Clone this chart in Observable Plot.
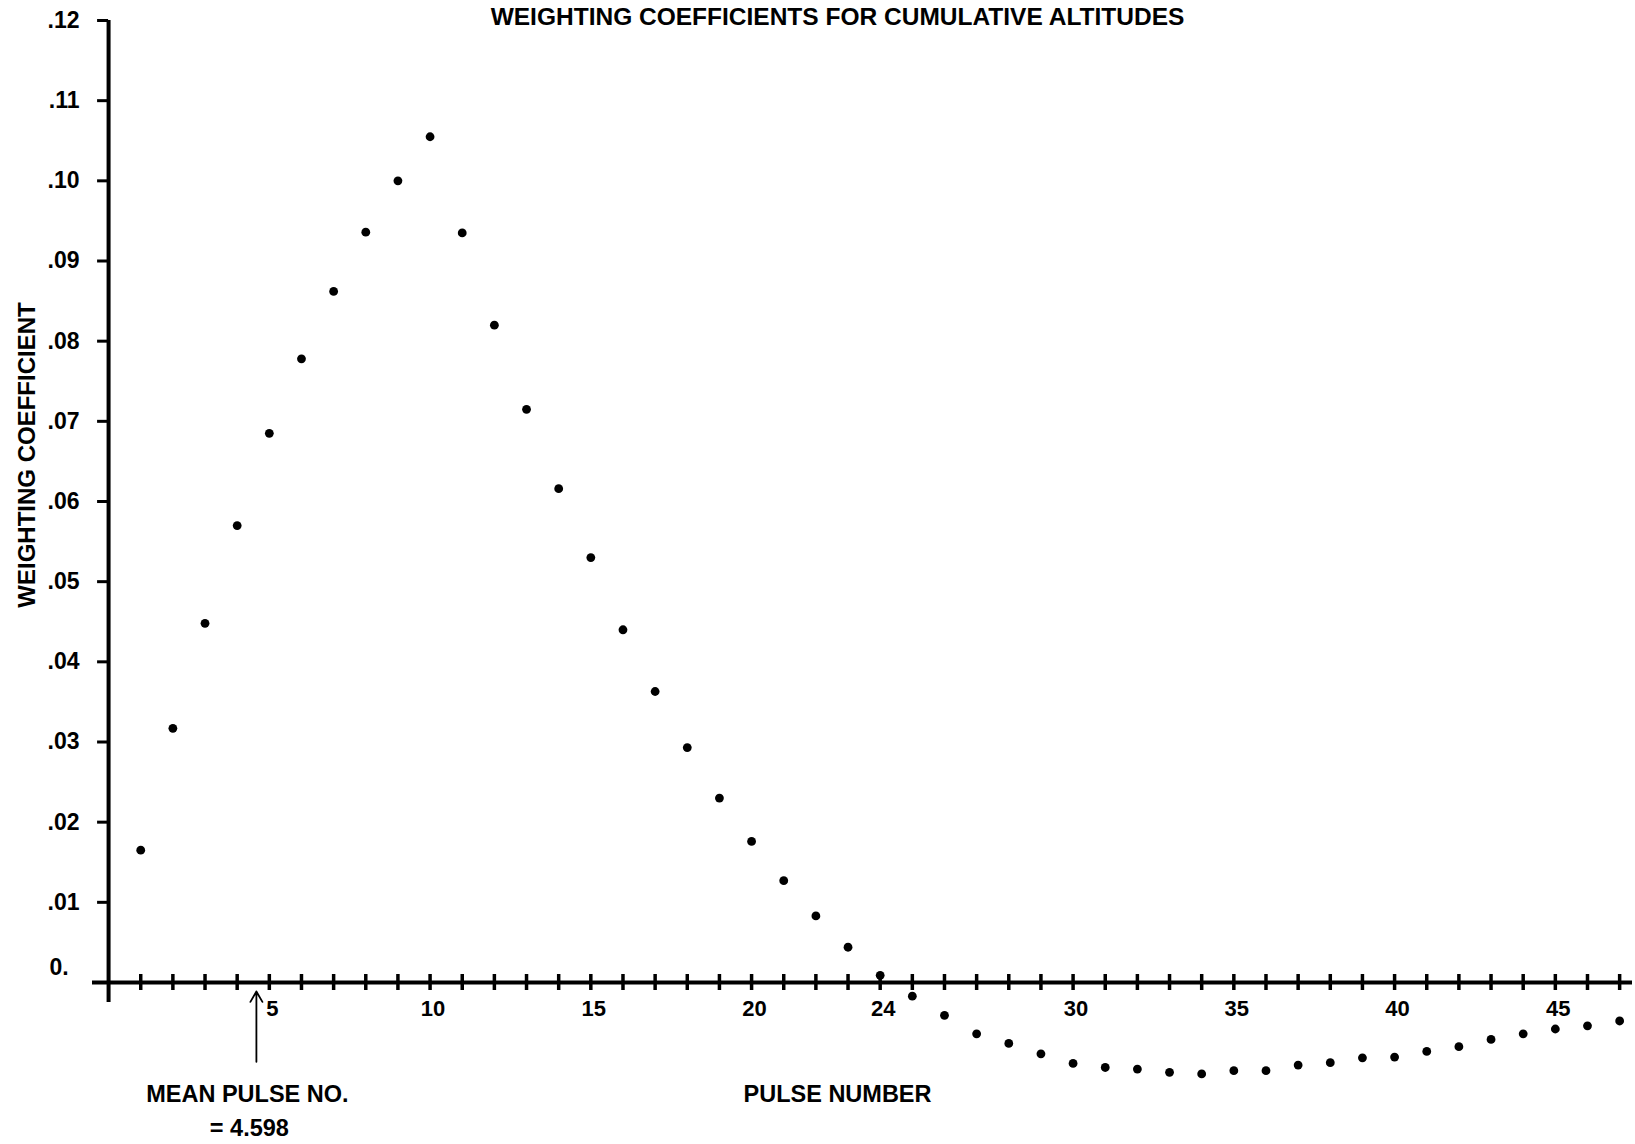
<!DOCTYPE html>
<html>
<head>
<meta charset="utf-8">
<script src="https://cdn.jsdelivr.net/npm/d3@7"></script>
<script src="https://cdn.jsdelivr.net/npm/@observablehq/plot@0.6"></script>
<style>
html, body { margin: 0; padding: 0; background: #ffffff; }
#chart svg { display: block; }
</style>
</head>
<body>
<div id="chart"></div>
<script>
// ---------- data ----------
const title = "WEIGHTING COEFFICIENTS FOR CUMULATIVE ALTITUDES";
const yLabel = "WEIGHTING COEFFICIENT";
const xLabel = "PULSE NUMBER";

const pulse = [1, 2, 3, 4, 5, 6, 7, 8, 9, 10, 11, 12, 13, 14, 15, 16, 17, 18, 19, 20,
  21, 22, 23, 24, 25, 26, 27, 28, 29, 30, 31, 32, 33, 34, 35, 36, 37, 38, 39, 40,
  41, 42, 43, 44, 45, 46, 47];
const coef = [0.0165, 0.0317, 0.0448, 0.0570, 0.0685, 0.0778, 0.0862, 0.0936, 0.1000, 0.1055,
  0.0935, 0.0820, 0.0715, 0.0616, 0.0530, 0.0440, 0.0363, 0.0293, 0.0230, 0.0176,
  0.0127, 0.0083, 0.0044, 0.0009, -0.0017, -0.0041, -0.0064, -0.0076, -0.0089, -0.0101,
  -0.0106, -0.0108, -0.0112, -0.0114, -0.0110, -0.0110, -0.0103, -0.0100, -0.0094, -0.0093,
  -0.0086, -0.0080, -0.0071, -0.0064, -0.0058, -0.0054, -0.0048];

const xMinorTicks = [1, 2, 3, 4, 5, 6, 7, 8, 9, 10, 11, 12, 13, 14, 15, 16, 17, 18, 19, 20,
  21, 22, 23, 24, 25, 26, 27, 28, 29, 30, 31, 32, 33, 34, 35, 36, 37, 38, 39, 40,
  41, 42, 43, 44, 45, 46, 47];
const xTickLabels = [5, 10, 15, 20, 24, 30, 35, 40, 45];
const yTicks = [0.01, 0.02, 0.03, 0.04, 0.05, 0.06, 0.07, 0.08, 0.09, 0.10, 0.11, 0.12];
const yTickLabels = [".01", ".02", ".03", ".04", ".05", ".06", ".07", ".08", ".09", ".10", ".11", ".12"];
const zeroLabel = "0.";
const meanPulse = 4.598;
const meanLabelLines = ["MEAN PULSE NO.", "= 4.598"];

const table = pulse.map((p, i) => ({pulse: p, coef: coef[i]}));
const yTickTable = yTicks.map((v, i) => ({v, label: yTickLabels[i]}));

// ---------- layout ----------
const W = 1635, H = 1144;
const font = "'Liberation Sans', Arial, Helvetica, sans-serif";
const yTop = 0.12, yMin = -0.0175;
const mTop = 20, zeroPx = 982;
const k = (zeroPx - mTop) / yTop;
const mBottom = H - (zeroPx + (-yMin) * k);
const frameBottom = H - mBottom;
const frameMid = (mTop + frameBottom) / 2;
const mLeft = 92, mRight = 3;
const frameCenterX = (mLeft + (W - mRight)) / 2;
const txt = {fontWeight: "bold", fill: "#000", fontFamily: font};

const chart = Plot.plot({
  width: W,
  height: H,
  marginTop: mTop,
  marginBottom: mBottom,
  marginLeft: mLeft,
  marginRight: mRight,
  style: {background: "#ffffff", color: "#000000", fontFamily: font},
  x: {domain: [-0.5, 47.4], axis: null},
  y: {domain: [yMin, yTop], axis: null},
  marks: [
    // axes lines
    Plot.ruleY([0], {stroke: "#000", strokeWidth: 4}),
    Plot.ruleX([0], {y1: yTop, y2: 0, insetBottom: -20, stroke: "#000", strokeWidth: 4}),
    // x ticks crossing the axis
    Plot.ruleX(xMinorTicks, {x: d => d, y1: 0, y2: 0, insetTop: -8, insetBottom: -8, stroke: "#000", strokeWidth: 3.5}),
    // y ticks to the left
    Plot.ruleY(yTickTable, {y: "v", x1: 0, x2: 0, insetLeft: -11, stroke: "#000", strokeWidth: 3}),
    // y tick labels
    Plot.text(yTickTable, {x: 0, y: "v", text: "label", dx: -29, textAnchor: "end", fontSize: 23, ...txt}),
    Plot.text([zeroLabel], {x: 0, y: 0, text: d => d, dx: -40, dy: -15, textAnchor: "end", fontSize: 23, ...txt}),
    // x tick labels
    Plot.text(xTickLabels, {x: d => d, y: 0, text: d => String(d), dx: 3, dy: 26, fontSize: 22, ...txt}),
    // data points
    Plot.dot(table, {x: "pulse", y: "coef", r: 4.4, fill: "#000", stroke: "none"}),
    // mean pulse arrow
    Plot.arrow([meanPulse], {x1: d => d, x2: d => d, y1: -0.0099, y2: 0, insetEnd: 9,
      headLength: 10, stroke: "#000", strokeWidth: 1.8}),
    Plot.text([meanLabelLines[0]], {x: meanPulse, frameAnchor: "bottom", lineAnchor: "middle", text: d => d,
      dx: -9, dy: 1094 - frameBottom, fontSize: 23.5, ...txt}),
    Plot.text([meanLabelLines[1]], {x: meanPulse, frameAnchor: "bottom", lineAnchor: "middle", text: d => d,
      dx: -7, dy: 1128 - frameBottom, fontSize: 23.5, ...txt}),
    // titles
    Plot.text([title], {frameAnchor: "top", lineAnchor: "middle", text: d => d, dx: 837 - frameCenterX, dy: -3.5,
      fontSize: 24.5, ...txt}),
    Plot.text([xLabel], {frameAnchor: "bottom", lineAnchor: "middle", text: d => d, dx: 837 - frameCenterX,
      dy: 1094 - frameBottom, fontSize: 23.5, ...txt}),
    Plot.text([yLabel], {frameAnchor: "left", textAnchor: "middle", lineAnchor: "middle", text: d => d, rotate: -90,
      dx: 27 - mLeft, dy: 454.5 - frameMid, fontSize: 24, ...txt})
  ]
});

document.getElementById("chart").appendChild(chart);
</script>
</body>
</html>
